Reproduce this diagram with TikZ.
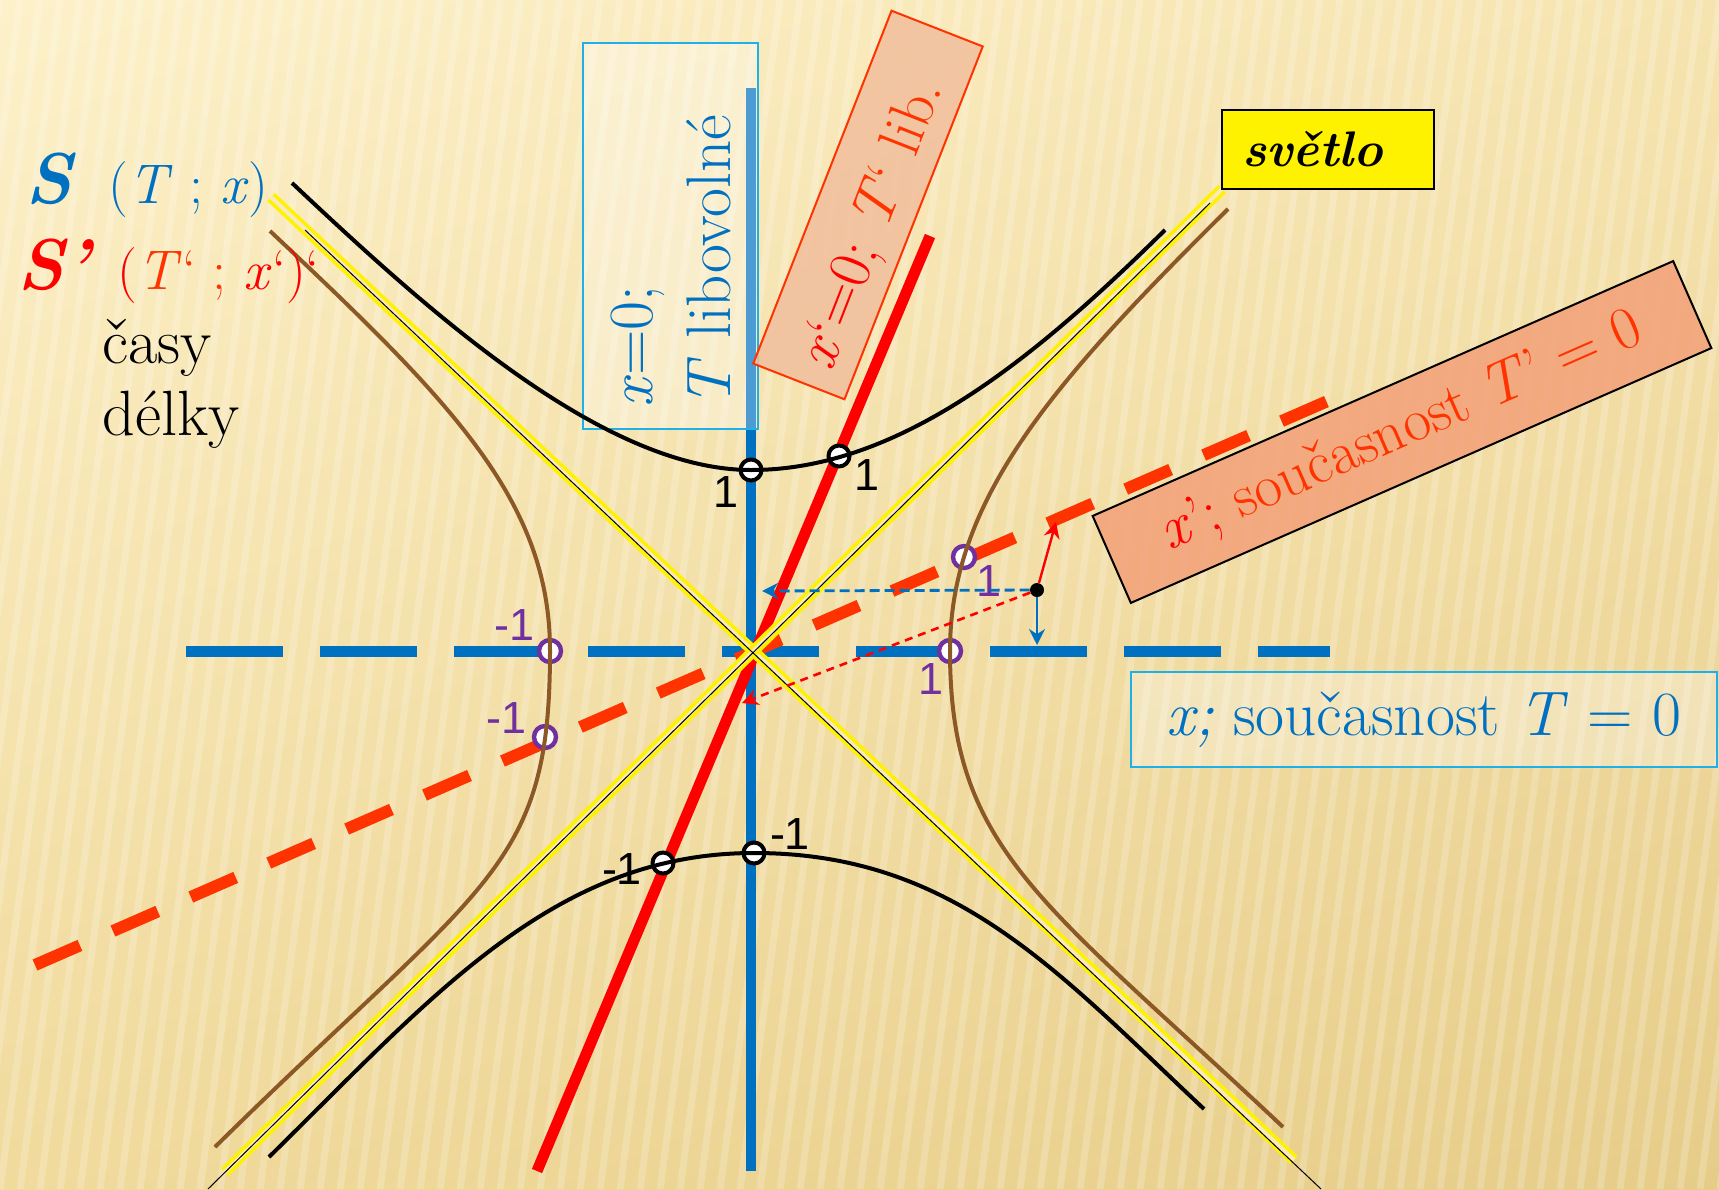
\documentclass[tikz,border=0pt]{standalone}
\usepackage{fontspec}
\newfontfamily\numfont{Liberation Sans}
\usetikzlibrary{arrows.meta,shadings}

\definecolor{sblue}{RGB}{0,112,192}
\definecolor{sred}{RGB}{255,0,0}
\definecolor{sorange}{RGB}{255,51,0}
\definecolor{hbrown}{RGB}{140,88,38}
\definecolor{mpurple}{RGB}{112,48,160}
\definecolor{boxcyan}{RGB}{30,176,232}
\definecolor{peach}{RGB}{241,190,156}
\definecolor{salmon}{RGB}{244,160,120}
\definecolor{bgA}{RGB}{253,241,202}
\definecolor{bgB}{RGB}{246,228,176}
\definecolor{bgC}{RGB}{240,218,156}
\definecolor{bgD}{RGB}{230,204,136}
\definecolor{raygap}{RGB}{248,234,190}

\tikzset{
  stripe/.style={white, opacity=0.2, line width=3.5pt},
  taxis/.style={sblue, line width=5pt},
  xaxis/.style={sblue, line width=5.5pt, dash pattern=on 48.5pt off 18.5pt},
  tpaxis/.style={sred, line width=5.5pt},
  xpaxis/.style={sorange, line width=6pt, dash pattern=on 24.5pt off 18pt},
  lightray/.style={yellow, line width=1.8pt, double=raygap, double distance=2pt},
  raycore/.style={black, line width=0.5pt},
  hypT/.style={black, line width=2pt},
  hypX/.style={hbrown, line width=2pt},
  markT/.style={circle, draw=black, line width=2pt, fill=white, minimum size=10.5pt, inner sep=0pt},
  markX/.style={circle, draw=mpurple, line width=2.2pt, fill=white, minimum size=11pt, inner sep=0pt},
  num/.style={font={\numfont\fontsize{22.5}{24}\selectfont}, inner sep=0pt},
  bigtext/.style={font={\fontsize{31.5}{39}\selectfont}, inner sep=0pt},
  cyanbox/.style={draw=boxcyan, line width=1pt, fill=white, fill opacity=0.3, text opacity=1},
  projT/.style={sblue, line width=1.4pt, dash pattern=on 5pt off 2.5pt, -{Stealth[length=8pt,width=8pt]}},
  projX/.style={sblue, line width=1pt, -{Stealth[length=8pt,width=8pt]}},
  projXp/.style={sred, line width=1.2pt, -{Stealth[length=8pt,width=8pt]}},
  projTp/.style={sred, line width=1.3pt, dash pattern=on 4pt off 3pt, -{Stealth[length=8pt,width=8pt]}}
}

\begin{document}
\begin{tikzpicture}[x=0.5pt, y=-0.5pt]
\useasboundingbox (0,0) rectangle (1719,1189);
\begin{scope}
  \clip (0,0) rectangle (1719,1189);
  \shade[upper left=bgA, upper right=bgB, lower left=bgC, lower right=bgD] (0,0) rectangle (1719,1189);
  \foreach \i in {0,...,100}
    \draw[stripe] ({\i*20-160},1189) -- ({\i*20},0);
\end{scope}

\coordinate (Ttop) at (751,88);
\coordinate (Tbot) at (751,1171);
\coordinate (xleft) at (186,651);
\coordinate (xright) at (1330,651);
\coordinate (tpbot) at (537,1171);
\coordinate (tptop) at (930,236);
\coordinate (xpleft) at (35,965);
\coordinate (xpright) at (1330,400);

\draw[taxis] (Ttop) -- (Tbot);
\draw[xaxis] (xleft) -- (xright);
\node[cyanbox, minimum width=87.5pt, minimum height=193pt] (zbox) at (670.5,236) {};
\node[bigtext, text=sblue, rotate=90, anchor=south west, align=left] (zlabel) at (731,408)
  {\textit{x}=0;\\\textit{T} libovolné};

\draw[tpaxis] (tpbot) -- (tptop);
\draw[xpaxis] (xpleft) -- (xpright);
\node[draw=sorange, line width=1pt, fill=peach, fill opacity=0.85, rotate=68.6,
  minimum width=189.5pt, minimum height=49pt] (zpbox) at (868,205) {};
\node[font={\fontsize{30}{34}\selectfont}, inner sep=0pt, rotate=68.6] (zplabel) at (873,225)
  {\textcolor{sred}{\textit{x}‘=0;} \textcolor{sorange}{\textit{T}‘ lib.}};

\coordinate (ray1a) at (271,197);
\coordinate (ray1b) at (1294,1160);
\coordinate (ray2a) at (1222,189);
\coordinate (ray2b) at (225,1172);
\coordinate (core1a) at (305,230);
\coordinate (core1b) at (1321,1189);
\coordinate (core2a) at (1210,203);
\coordinate (core2b) at (208,1189);
\draw[lightray] (ray1a) -- (ray1b);
\draw[lightray] (ray2a) -- (ray2b);
\draw[raycore] (core1a) -- (core1b);
\draw[raycore] (core2a) -- (core2b);

\node[markT] (t1) at (751,470) {};
\node[markT] (tp1) at (839,456) {};
\node[markT] (t2) at (754,853) {};
\node[markT] (tp2) at (663,863) {};
\node[markX] (x1) at (550,651) {};
\node[markX] (x2) at (950,651) {};
\node[markX] (xp1) at (964,557) {};
\node[markX] (xp2) at (545,737) {};

\draw[hypT] (292,183) .. controls (423,306) and (601,470) .. (751,470)
  .. controls (901,470) and (1037,356) .. (1165,230);
\draw[hypT] (269,1157) .. controls (433,996) and (554,853) .. (754,853)
  .. controls (954,853) and (1058,972) .. (1204,1109);
\draw[hypX] (270,231) .. controls (452,402) and (550,501) .. (550,651)
  .. controls (550,871) and (486,880) .. (215,1147);
\draw[hypX] (1228,209) .. controls (1050,385) and (950,501) .. (950,651)
  .. controls (950,851) and (1043,901) .. (1283,1127);

\node[num] (n1) at (726,492) {1};
\node[num] (n2) at (867,475) {1};
\node[num] (n3) at (790,834) {-1};
\node[num] (n4) at (622,869) {-1};
\node[num, text=mpurple] (n5) at (515,625) {-1};
\node[num, text=mpurple] (n6) at (507,718) {-1};
\node[num, text=mpurple] (n7) at (931,679) {1};
\node[num, text=mpurple] (n8) at (989,581) {1};

\node[circle, fill=black, minimum size=7pt, inner sep=0pt] (ev) at (1037,590) {};
\coordinate (evT) at (762,591);
\coordinate (evX) at (1037,645);
\coordinate (evXp) at (1056,522);
\coordinate (evTp) at (742,703);
\draw[projT] (ev) -- (evT);
\draw[projX] (ev) -- (evX);
\draw[projXp] (ev) -- (evXp);
\draw[projTp] (ev) -- (evTp);

\node[draw=black, line width=1pt, fill=salmon, fill opacity=0.85, text opacity=1, rotate=23.7,
  minimum width=317pt, minimum height=47.5pt, font={\fontsize{30}{34}\selectfont}] (xpbox) at (1402,432)
  {\textcolor{sred}{\textit{x}’;} \textcolor{sorange}{současnost \textit{T}’ = 0}};
\node[draw=black, line width=1.2pt, fill=yellow, text width=86pt, inner xsep=10pt,
  minimum height=39.5pt, font={\fontsize{25}{28}\selectfont\bfseries\itshape}] (light) at (1328,149.5) {světlo};
\node[cyanbox, bigtext, text=sblue, minimum width=293pt, minimum height=47.5pt] (xbox) at (1424,719.5)
  {\textit{x;} současnost \textit{T} = 0};

\node[anchor=base west, inner sep=0pt, text=sblue] (Slabel) at (25,203)
  {{\fontsize{36}{40}\selectfont\bfseries\itshape S}\hspace{18pt}{\fontsize{28}{32}\selectfont(\textit{T} ; \textit{x})}};
\node[anchor=base west, inner sep=0pt] (Splabel) at (17,289)
  {{\fontsize{36}{40}\selectfont\color{sred}\bfseries\itshape S’}\hspace{14pt}{\fontsize{28}{32}\selectfont
   \textcolor{sred}{(}\textcolor{sorange}{\textit{T}‘ ;} \textcolor{sred}{\textit{x}‘)‘}}};
\node[anchor=base west, inner sep=0pt, font={\fontsize{32}{36}\selectfont}] (casy) at (102,363) {časy};
\node[anchor=base west, inner sep=0pt, font={\fontsize{32}{36}\selectfont}] (delky) at (102,435) {délky};
\end{tikzpicture}
\end{document}
